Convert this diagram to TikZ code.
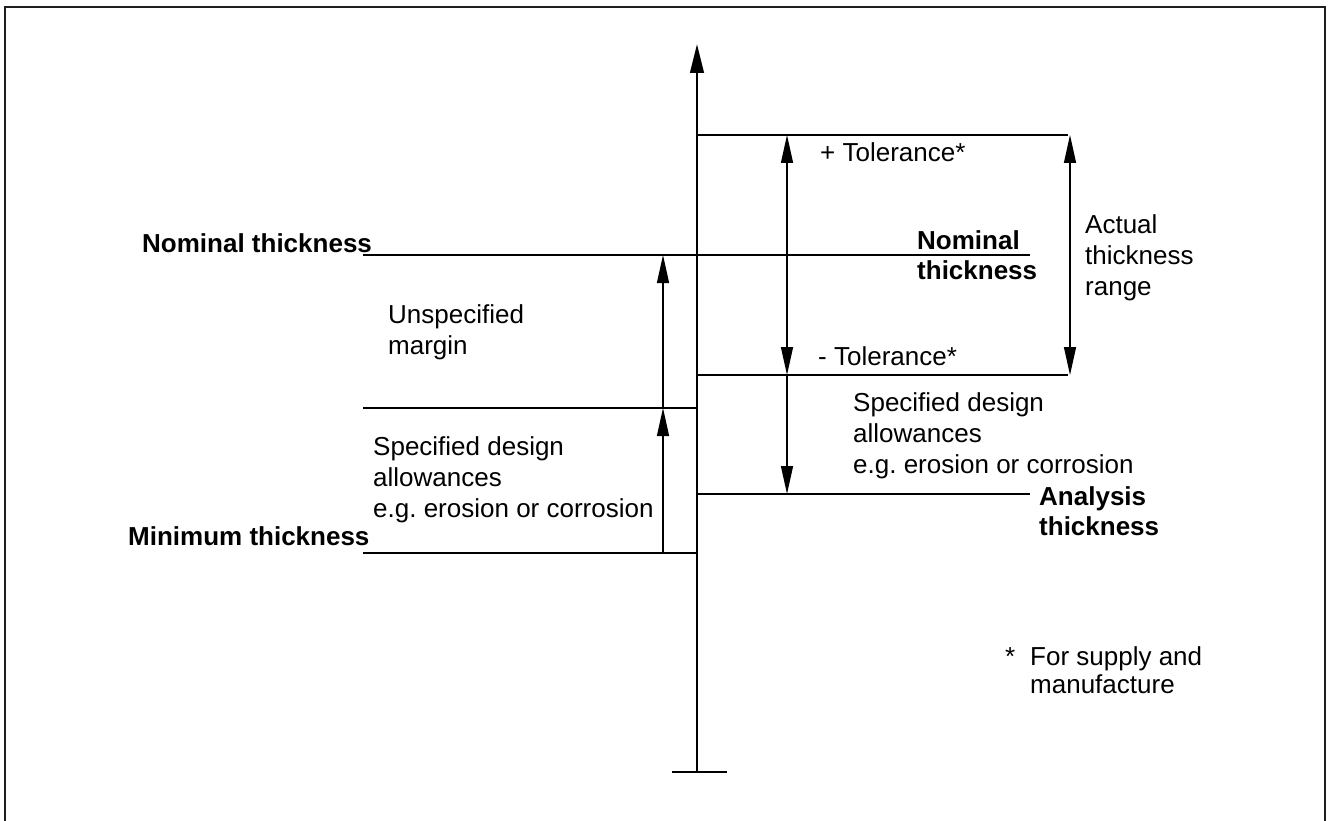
\documentclass[tikz,border=0pt]{standalone}
\usepackage{fontspec}
\setmainfont{Liberation Sans}
\usetikzlibrary{arrows.meta}
\frenchspacing
\newcommand{\lines}[1]{\begin{tabular}[t]{@{}l@{}}#1\end{tabular}}
\tikzset{
  frame/.style={line width=2.7pt, color=black!88},
  mainline/.style={line width=2.5pt},
  axisline/.style={line width=2.8pt, -{Triangle[length=29pt,width=13.5pt]}},
  thinline/.style={line width=1.3pt},
  uptip/.style={thinline, -{Triangle[length=28pt,width=12pt]}},
  bothtip/.style={thinline, {Triangle[length=28pt,width=12pt]}-{Triangle[length=28pt,width=12pt]}},
  lbl/.style={anchor=base west, inner sep=0pt, font=\fontsize{26}{31}\selectfont},
  blbl/.style={anchor=base west, inner sep=0pt, font=\fontsize{26}{30}\selectfont\bfseries},
}
\begin{document}
\begin{tikzpicture}[x=1pt,y=-1pt]
\useasboundingbox (0,0) rectangle (1328,821);
% frame
\coordinate (fBL) at (5,823);
\coordinate (fTL) at (5,7);
\coordinate (fTR) at (1325,7);
\coordinate (fBR) at (1325,823);
\draw[frame] (fBL) -- (fTL) -- (fTR) -- (fBR);
% axis
\coordinate (axB) at (697,772);
\coordinate (axT) at (697,44);
\coordinate (tL) at (672,772);
\coordinate (tR) at (727,772);
\draw[axisline] (axB) -- (axT);
\draw[mainline] (tL) -- (tR);
% level lines
\coordinate (top0) at (697,135);  \coordinate (top1) at (1068,135);
\coordinate (nom0) at (363,255);  \coordinate (nom1) at (1030,255);
\coordinate (mt0)  at (697,375);  \coordinate (mt1)  at (1068,375);
\coordinate (us0)  at (363,408);  \coordinate (us1)  at (697,408);
\coordinate (an0)  at (697,494);  \coordinate (an1)  at (1030,494);
\coordinate (mn0)  at (363,553);  \coordinate (mn1)  at (697,553);
\draw[mainline] (top0) -- (top1);
\draw[mainline] (nom0) -- (nom1);
\draw[mainline] (mt0) -- (mt1);
\draw[mainline] (us0) -- (us1);
\draw[mainline] (an0) -- (an1);
\draw[mainline] (mn0) -- (mn1);
% dimension arrows
\coordinate (a1) at (787,135); \coordinate (a2) at (787,375); \coordinate (a3) at (787,494);
\coordinate (b1) at (1070,135); \coordinate (b2) at (1070,375);
\coordinate (c1) at (663,553); \coordinate (c2) at (663,408); \coordinate (c3) at (663,255);
\draw[bothtip] (a2) -- (a1);
\draw[uptip] (a2) -- (a3);
\draw[bothtip] (b2) -- (b1);
\draw[uptip] (c1) -- (c2);
\draw[uptip] (c2) -- (c3);
% labels
\node[blbl] (nomL) at (142,252) {Nominal thickness};
\node[blbl] (nomR) at (917,250) {\lines{Nominal\\thickness}};
\node[lbl] (ptol) at (820,162) {+ Tolerance*};
\node[lbl] (act) at (1085,234) {\lines{Actual\\thickness\\range}};
\node[lbl] (unsp) at (388,323) {\lines{Unspecified\\margin}};
\node[lbl] (mtol) at (818,365) {- Tolerance*};
\node[lbl] (specR) at (853,411) {\lines{Specified design\\allowances\\e.g. erosion or corrosion}};
\node[blbl] (anR) at (1039,505) {\lines{Analysis\\thickness}};
\node[lbl] (specL) at (373,455) {\lines{Specified design\\allowances\\e.g. erosion or corrosion}};
\node[blbl] (minL) at (128,545) {Minimum thickness};
\node[lbl] (star) at (1005,665) {*};
\node[anchor=base west, inner sep=0pt, font=\fontsize{26}{28}\selectfont] (foot) at (1030,665) {\lines{For supply and\\manufacture}};
\end{tikzpicture}
\end{document}
